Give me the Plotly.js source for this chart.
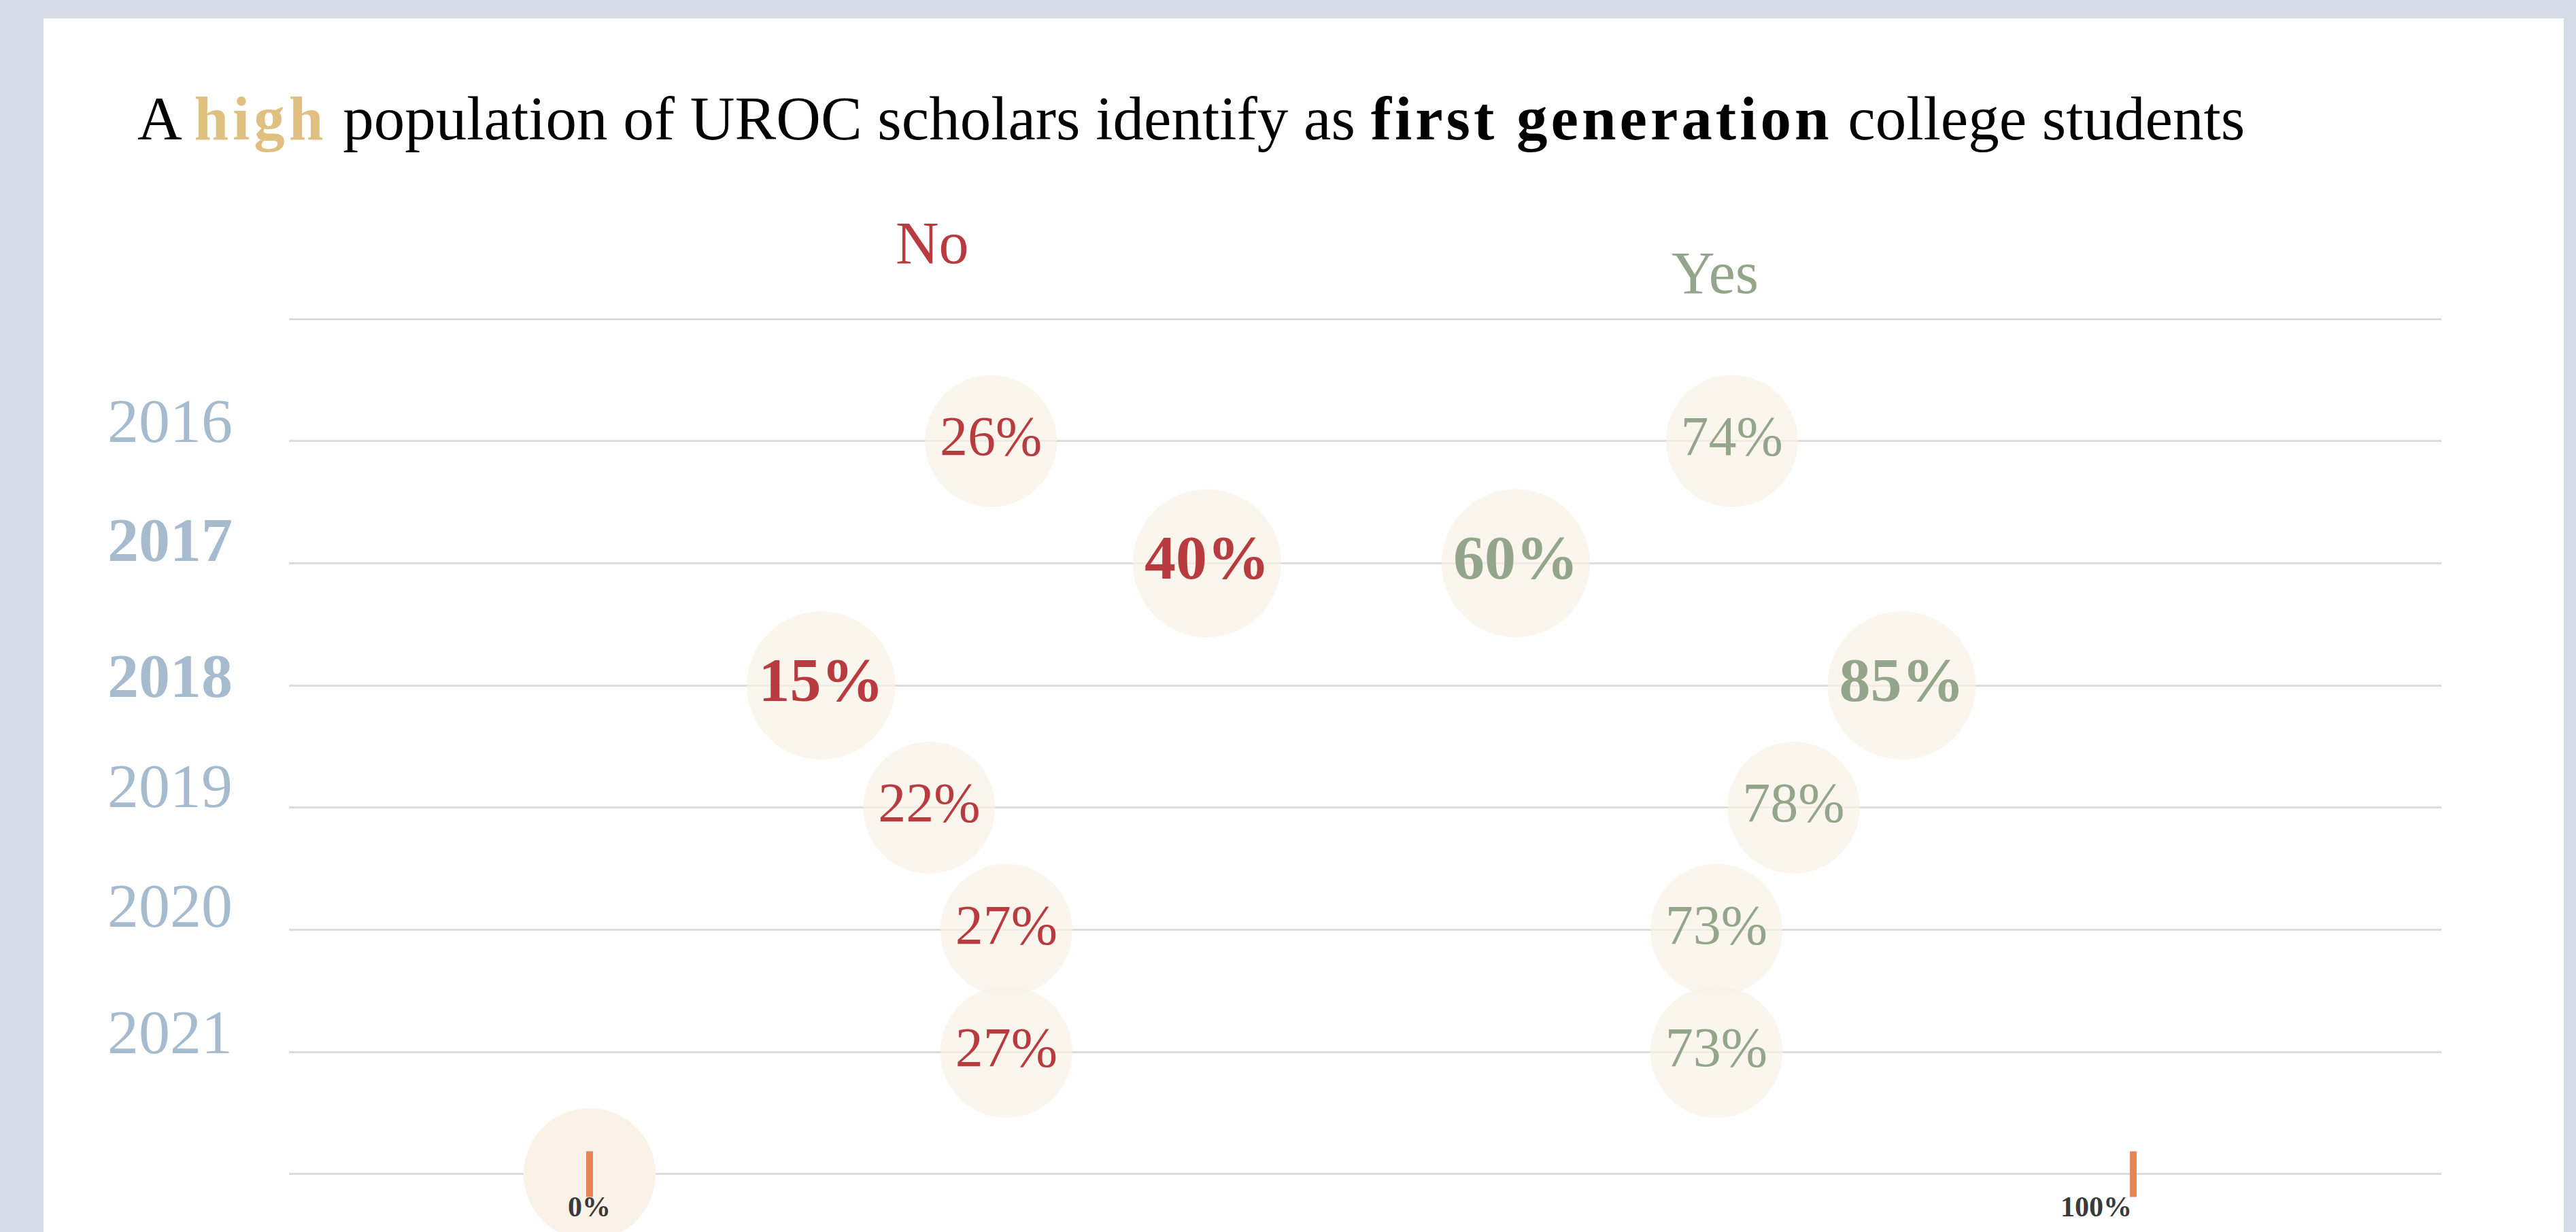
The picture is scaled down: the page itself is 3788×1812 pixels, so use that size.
<!DOCTYPE html>
<html>
<head>
<meta charset="utf-8">
<script src="https://cdn.plot.ly/plotly-3.0.1.min.js"></script>
<style>
  html, body { margin: 0; padding: 0; background: #d5dce6; width: 3788px; height: 1812px; overflow: hidden; }
  #chart { position: absolute; left: 64px; top: 27px; width: 3706px; height: 1785px; }
</style>
</head>
<body>
<div id="chart"></div>
<script>
// ---- data ----
const years = ['2016', '2017', '2018', '2019', '2020', '2021'];
const noValues = [26, 40, 15, 22, 27, 27];
const yesValues = [74, 60, 85, 78, 73, 73];
const emphasizedYears = ['2017', '2018'];
const seriesNames = ['No', 'Yes'];
const axisTickValues = [0, 100];
const axisTickLabels = ['0%', '100%'];

// ---- style ----
const RED = '#b83c3f';
const GREEN = '#93a68b';
const YEARCOL = '#a7bbce';
const BUBBLE = '#faf2e6';
const ORANGE = '#e8845a';
const GOLD = '#e0c080';
const SERIF = '"Liberation Serif", "Times New Roman", serif';
const yearLabelLift = [30, 34, 14, 32, 36, 29];   // px above each row line

const rowOf = years.map((y, i) => i + 1);   // header row = 0, axis row = years.length + 1
const axisRow = years.length + 1;
const isEm = years.map(y => emphasizedYears.includes(y));
const bubbleSize = isEm.map(e => e ? 218 : 194);
const textSize = isEm.map(e => e ? 92 : 82);
const fmt = (v, e) => e ? '<b>' + v + '%</b>' : v + '%';

function bubbleTrace(values, color, name) {
  return {
    type: 'scatter', mode: 'markers+text', name: name,
    x: values, y: rowOf,
    text: values.map((v, i) => fmt(v, isEm[i])),
    textposition: 'middle center',
    textfont: { family: SERIF, size: textSize, color: color },
    marker: { size: bubbleSize, color: BUBBLE, line: { width: 0 } },
    cliponaxis: false, hoverinfo: 'skip', showlegend: false
  };
}

const traces = [
  {
    type: 'scatter', mode: 'markers', x: [axisTickValues[0]], y: [axisRow],
    marker: { size: 194, color: BUBBLE, line: { width: 0 } },
    cliponaxis: false, hoverinfo: 'skip', showlegend: false
  },
  {
    type: 'scatter', mode: 'markers', x: axisTickValues, y: axisTickValues.map(() => axisRow),
    marker: { symbol: 'line-ns', size: 48, line: { width: 10, color: ORANGE } },
    cliponaxis: false, hoverinfo: 'skip', showlegend: false
  },
  bubbleTrace(noValues, RED, seriesNames[0]),
  bubbleTrace(yesValues, GREEN, seriesNames[1])
];

const annotations = [];
years.forEach((y, i) => {
  annotations.push({
    xref: 'paper', yref: 'y', x: -0.0553, y: rowOf[i], xanchor: 'center', yanchor: 'middle',
    yshift: yearLabelLift[i], showarrow: false,
    text: isEm[i] ? '<b>' + y + '</b>' : y,
    font: { family: SERIF, size: 92, color: YEARCOL }
  });
});
annotations.push({
  xref: 'x', yref: 'y', x: 22.2, y: 0, yshift: 112, xanchor: 'center', yanchor: 'middle',
  showarrow: false, text: seriesNames[0], font: { family: SERIF, size: 88, color: RED }
});
annotations.push({
  xref: 'x', yref: 'y', x: 72.9, y: 0, yshift: 68, xanchor: 'center', yanchor: 'middle',
  showarrow: false, text: seriesNames[1], font: { family: SERIF, size: 88, color: GREEN }
});
axisTickValues.forEach((v, i) => {
  annotations.push({
    xref: 'x', yref: 'y', x: v, y: axisRow, yshift: -48,
    xanchor: i === 0 ? 'center' : 'right', yanchor: 'middle',
    showarrow: false, text: '<b>' + axisTickLabels[i] + '</b>',
    font: { family: SERIF, size: 42, color: '#3a3a3a' }
  });
});

const layout = {
  width: 3706, height: 1785,
  paper_bgcolor: '#ffffff', plot_bgcolor: '#ffffff',
  margin: { l: 361, r: 180, t: 353, b: 0 },
  title: {
    text: 'A <b><span style="color:' + GOLD + ';letter-spacing:6px">high</span></b> population of UROC scholars identify as <b><span style="letter-spacing:5px">first generation</span></b> college students',
    font: { family: SERIF, size: 91, color: '#000000' },
    xref: 'container', yref: 'container', x: 138 / 3706, xanchor: 'left',
    y: 1 - 146 / 1785, yanchor: 'middle'
  },
  xaxis: {
    range: [-19.47, 119.96], showgrid: false, zeroline: false, showticklabels: false,
    showline: false, ticks: '', fixedrange: true
  },
  yaxis: {
    range: [7.4736, -0.4953], tickvals: [0, 1, 2, 3, 4, 5, 6, 7], showticklabels: false,
    showgrid: true, gridcolor: '#dcdcdc', gridwidth: 3, zeroline: false, showline: false,
    ticks: '', fixedrange: true
  },
  annotations: annotations,
  showlegend: false
};

Plotly.newPlot('chart', traces, layout, { displayModeBar: false, staticPlot: true });
</script>
</body>
</html>
